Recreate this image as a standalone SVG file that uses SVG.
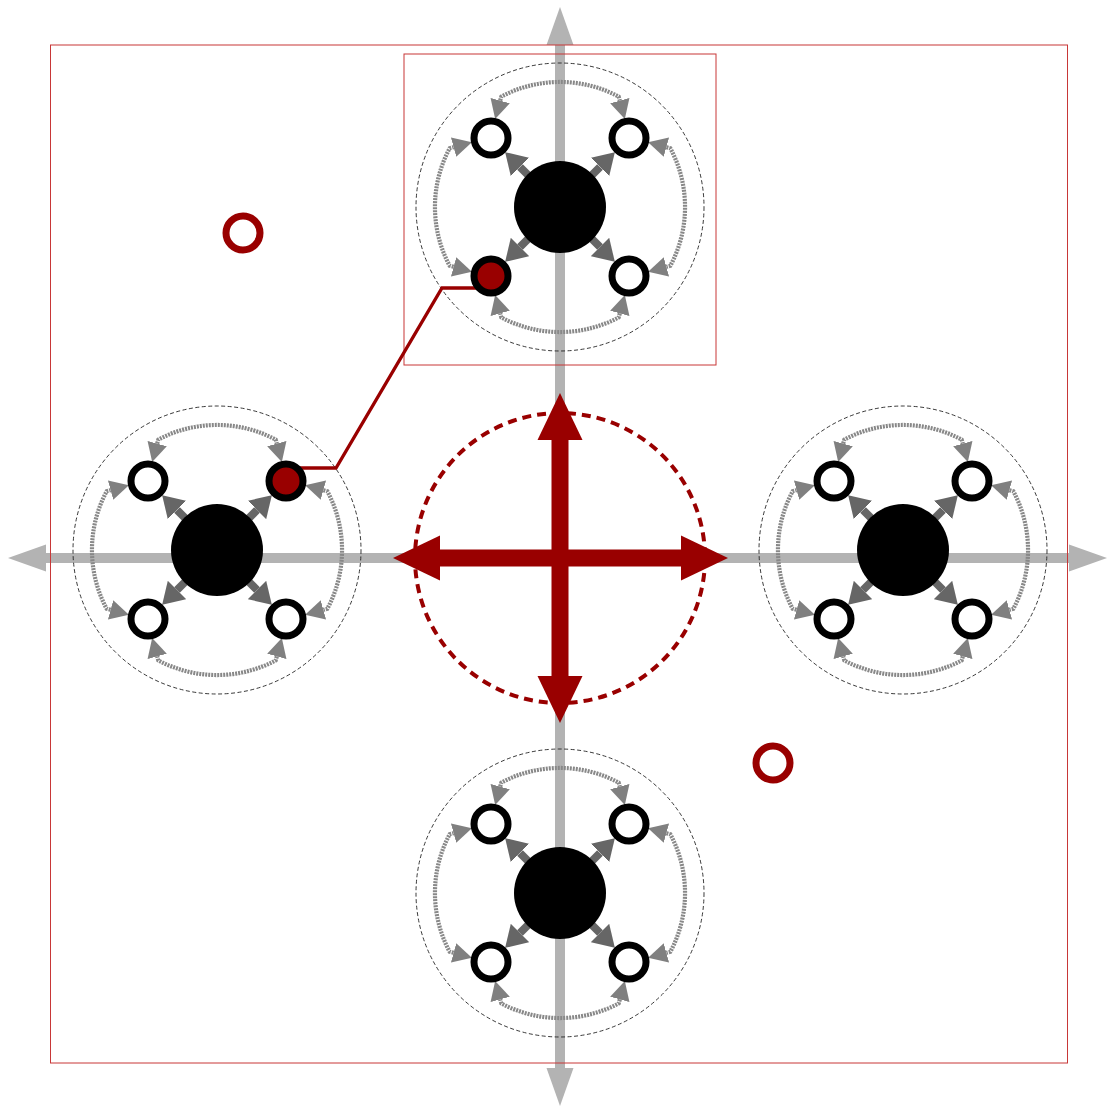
<svg xmlns="http://www.w3.org/2000/svg" width="1108" height="1106" viewBox="0 0 1108 1106">
  <style>
    .axis{stroke:#b3b3b3;stroke-width:10;fill:none}
    .axhead{fill:#b3b3b3}
    .frame{fill:none;stroke:#c83737;stroke-width:1}
    .ring{fill:none;stroke:#222;stroke-width:0.9;stroke-dasharray:4 2.5}
    .arc{fill:none;stroke:#888;stroke-width:4.2;stroke-dasharray:2 1;marker-start:url(#ah);marker-end:url(#ah)}
    .rad{fill:none;stroke:#666;stroke-width:8;marker-end:url(#rh)}
    .hub{fill:#000}
    .sat{fill:#fff;stroke:#000;stroke-width:7}
    .satred{fill:#990000;stroke:#000;stroke-width:7}
    .mark{fill:none;stroke:#990000;stroke-width:7}
    .red{fill:#990000}
    .link{fill:none;stroke:#990000;stroke-width:3.3}
  </style>
  <defs>
    <marker id="ah" markerUnits="userSpaceOnUse" viewBox="0 0 19 20" markerWidth="19" markerHeight="20" refX="0" refY="10" orient="auto-start-reverse">
      <path d="M0,0 L19,10 L0,20 z" fill="#808080"/>
    </marker>
    <marker id="rh" markerUnits="userSpaceOnUse" viewBox="0 0 21 26" markerWidth="21" markerHeight="26" refX="0" refY="13" orient="auto">
      <path d="M0,0 L21,13 L0,26 z" fill="#666"/>
    </marker>
    <g id="arcs">
      <path class="arc" d="M-59.8,-106.4 L-58.7,-110.4 A125 125 0 0 1 58.7,-110.4 L59.8,-106.4"/>
      <path class="arc" d="M106.4,-59.8 L110.4,-58.7 A125 125 0 0 1 110.4,58.7 L106.4,59.8"/>
      <path class="arc" d="M59.8,106.4 L58.7,110.4 A125 125 0 0 1 -58.7,110.4 L-59.8,106.4"/>
      <path class="arc" d="M-106.4,59.8 L-110.4,58.7 A125 125 0 0 1 -110.4,-58.7 L-106.4,-59.8"/>
      <path class="rad" d="M-30,-30 L-40,-40"/>
      <path class="rad" d="M30,-30 L40,-40"/>
      <path class="rad" d="M30,30 L40,40"/>
      <path class="rad" d="M-30,30 L-40,40"/>
    </g>
  </defs>

  <g id="axes">
    <line class="axis" x1="46" y1="558" x2="1069" y2="558"/>
    <line class="axis" x1="560" y1="45" x2="560" y2="1068"/>
    <polygon class="axhead" points="8,558 46,544.5 46,571.5"/>
    <polygon class="axhead" points="1107,558 1069,544.5 1069,571.5"/>
    <polygon class="axhead" points="560,7 546.5,45 573.5,45"/>
    <polygon class="axhead" points="560,1106 546.5,1068 573.5,1068"/>
  </g>

  <g id="rings">
    <circle class="ring" cx="560" cy="207" r="144"/>
    <circle class="ring" cx="217" cy="550" r="144"/>
    <circle class="ring" cx="903" cy="550" r="144"/>
    <circle class="ring" cx="560" cy="893" r="144"/>
  </g>

  <g id="frames">
    <rect class="frame" x="50.5" y="45" width="1017" height="1018"/>
    <rect class="frame" x="404" y="54" width="312" height="311"/>
  </g>

  <g id="center-cross">
    <circle cx="560" cy="558" r="145" fill="none" stroke="#990000" stroke-width="4" stroke-dasharray="9 6"/>
    <rect class="red" x="440" y="549.5" width="241" height="17"/>
    <rect class="red" x="551.5" y="440" width="17" height="236"/>
    <polygon class="red" points="393,558 440,535.5 440,580.5"/>
    <polygon class="red" points="728,558 681,535.5 681,580.5"/>
    <polygon class="red" points="560,393 537.5,440 582.5,440"/>
    <polygon class="red" points="560,723 537.5,676 582.5,676"/>
  </g>

  <g id="connectors">
    <use href="#arcs" transform="translate(560,207)"/>
    <use href="#arcs" transform="translate(217,550)"/>
    <use href="#arcs" transform="translate(903,550)"/>
    <use href="#arcs" transform="translate(560,893)"/>
    <polyline class="link" points="481,288 442,288 336,468 297,468"/>
  </g>

  <g id="cluster-top" transform="translate(560,207)">
    <g id="hub-top"><circle class="hub" r="46"/></g>
    <g id="top-tl"><circle class="sat" cx="-69" cy="-69" r="17"/></g>
    <g id="top-tr"><circle class="sat" cx="69" cy="-69" r="17"/></g>
    <g id="top-bl"><circle class="satred" cx="-69" cy="69" r="17"/></g>
    <g id="top-br"><circle class="sat" cx="69" cy="69" r="17"/></g>
  </g>
  <g id="cluster-left" transform="translate(217,550)">
    <g id="hub-left"><circle class="hub" r="46"/></g>
    <g id="left-tl"><circle class="sat" cx="-69" cy="-69" r="17"/></g>
    <g id="left-tr"><circle class="satred" cx="69" cy="-69" r="17"/></g>
    <g id="left-bl"><circle class="sat" cx="-69" cy="69" r="17"/></g>
    <g id="left-br"><circle class="sat" cx="69" cy="69" r="17"/></g>
  </g>
  <g id="cluster-right" transform="translate(903,550)">
    <g id="hub-right"><circle class="hub" r="46"/></g>
    <g id="right-tl"><circle class="sat" cx="-69" cy="-69" r="17"/></g>
    <g id="right-tr"><circle class="sat" cx="69" cy="-69" r="17"/></g>
    <g id="right-bl"><circle class="sat" cx="-69" cy="69" r="17"/></g>
    <g id="right-br"><circle class="sat" cx="69" cy="69" r="17"/></g>
  </g>
  <g id="cluster-bottom" transform="translate(560,893)">
    <g id="hub-bottom"><circle class="hub" r="46"/></g>
    <g id="bottom-tl"><circle class="sat" cx="-69" cy="-69" r="17"/></g>
    <g id="bottom-tr"><circle class="sat" cx="69" cy="-69" r="17"/></g>
    <g id="bottom-bl"><circle class="sat" cx="-69" cy="69" r="17"/></g>
    <g id="bottom-br"><circle class="sat" cx="69" cy="69" r="17"/></g>
  </g>

  <g id="marker-a"><circle class="mark" cx="243" cy="233" r="17"/></g>
  <g id="marker-b"><circle class="mark" cx="773" cy="763" r="17"/></g>
</svg>
